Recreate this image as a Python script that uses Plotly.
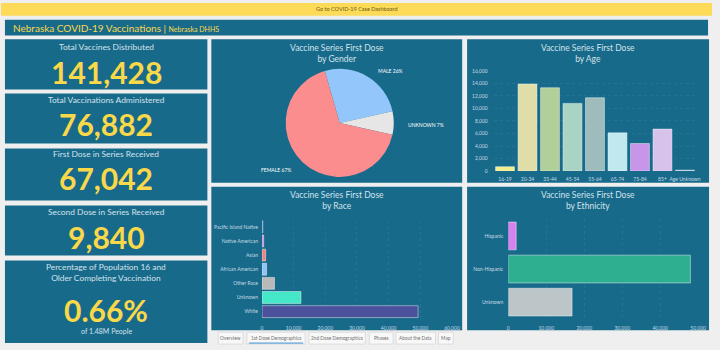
import math
import plotly.graph_objects as go

W, H = 720, 350
def X(px): return px / W
def Y(py): return 1 - py / H

# ---------------- data ----------------
gender_labels = ["MALE", "UNKNOWN", "FEMALE"]
gender_values = [17400, 4700, 44900]
gender_colors = ["#93c6fb", "#e6e6e6", "#fb8d8e"]

age_groups = ["16-19", "20-34", "35-44", "45-54", "55-64", "65-74", "75-84", "85+", "Age Unknown"]
age_values = [700, 13900, 13300, 10800, 11700, 6100, 4400, 6700, 150]
age_colors = ["#f3ee8c", "#e0dea7", "#b1cf99", "#a9d3c3", "#9dbcbb", "#bfe8ef", "#c796e9", "#d6c2eb", "#c9d6dd"]

race_groups = ["White", "Unknown", "Other Race", "African American", "Asian", "Native American", "Pacific Island Native"]
race_values = [49300, 12300, 3950, 1450, 1150, 530, 250]
race_colors = ["#4c519c", "#44e8c8", "#b9b9b9", "#8fc4f4", "#ef8383", "#d982ea", "#3c74d4"]

eth_groups = ["Unknown", "Non-Hispanic", "Hispanic"]
eth_values = [16800, 47950, 2080]
eth_colors = ["#bcc5c8", "#2eb090", "#d581ef"]

kpi_titles = ["Total Vaccines Distributed", "Total Vaccinations Administered",
              "First Dose in Series Received", "Second Dose in Series Received",
              "Percentage of Population 16 and<br>Older Completing Vaccination"]
kpi_values = ["141,428", "76,882", "67,042", "9,840", "0.66%"]
kpi_note = "of 1.48M People"

tabs = ["Overview", "1st Dose Demographics", "2nd Dose Demographics", "Phases", "About the Data", "Map"]

# ---------------- styles ----------------
TEAL = "#186a8b"
BG = "#efefef"
YEL = "#f9d849"
LIGHT = "#d3e2ea"
TICK = "#c6d9e3"
FONT = "Lato"

fig = go.Figure()
shapes = []
ann = []

def rect(x0, y0, x1, y1, fill, line=None, lw=0):
    shapes.append(dict(type="rect", xref="paper", yref="paper", layer="below",
                       x0=X(x0), x1=X(x1), y0=Y(y1), y1=Y(y0), fillcolor=fill,
                       line=dict(color=line or fill, width=lw)))

def text(x, y, s, size, color, xanchor="center", yanchor="middle", bold=False):
    f = dict(size=size, color=color, family=FONT)
    if bold:
        f["weight"] = "bold"
    ann.append(dict(xref="paper", yref="paper", x=X(x), y=Y(y), text=s, showarrow=False,
                    xanchor=xanchor, yanchor=yanchor, font=f))

# top bar
rect(0, 0, 720, 13, "#fddb58")
text(360, 6.5, "Go to COVID-19 Case Dashboard", 5.5, "#6b5a10")
# header
rect(4, 17, 716, 33, TEAL)
text(10, 25, "Nebraska COVID-19 Vaccinations | <span style='font-size:7px'>Nebraska DHHS</span>", 10, YEL, xanchor="left")

# KPI cards
cards = [(37, 88), (92, 143), (148, 201), (206, 257), (262, 346)]
title_y = [45, 99, 154, 213, 274]
value_y = [70, 123, 178, 238, 312]
for (y0, y1), t, v, ty, vy in zip(cards, kpi_titles, kpi_values, title_y, value_y):
    rect(4, y0, 209, y1, TEAL)
    text(106.5, ty, t, 8.4, LIGHT)
    text(106.5, vy, v, 30, YEL, bold=True)
text(106.5, 334, kpi_note, 7, LIGHT)

# chart panels
panels = {"pie": (213, 37, 467, 183), "age": (472, 37, 717, 183),
          "race": (213, 187, 467, 333), "eth": (472, 187, 717, 333)}
titles = {"pie": "Vaccine Series First Dose<br>by Gender", "age": "Vaccine Series First Dose<br>by Age",
          "race": "Vaccine Series First Dose<br>by Race", "eth": "Vaccine Series First Dose<br>by Ethnicity"}
for k, (x0, y0, x1, y1) in panels.items():
    rect(x0, y0, x1, y1, TEAL)
    text((x0 + x1) / 2, y0 + 14, titles[k], 8.5, LIGHT)

# tabs
tab_x = [(220, 245), (249, 308), (312, 369), (373, 397), (400, 440), (443, 458)]
for (a, b), t in zip(tab_x, tabs):
    rect(a, 335, b, 347, "#f8f8f8", "#cfcfcf", 0.6)
    text((a + b) / 2, 341, t, 4.8, "#707070")
shapes.append(dict(type="line", xref="paper", yref="paper", x0=X(251), x1=X(306), y0=Y(346), y1=Y(346),
                   line=dict(color="#3b8ed3", width=1)))

# ---------------- pie ----------------
cx, cy, R = 343, 122, 55
rotation = -16
fig.add_trace(go.Pie(labels=gender_labels, values=gender_values, marker=dict(colors=gender_colors, line=dict(width=0)),
                     sort=False, direction="clockwise", rotation=rotation, textinfo="none", hoverinfo="label+percent",
                     domain=dict(x=[X(cx - R), X(cx + R)], y=[Y(cy + R), Y(cy - R)]), showlegend=False))
total = sum(gender_values)
acc = rotation
for lab, val in zip(gender_labels, gender_values):
    span = val / total * 360
    mid = math.radians(acc + span / 2)
    acc += span
    rl = R * 1.15
    s = math.sin(mid)
    lx = cx + rl * s + (4 if s > 0 else -4)
    ly = cy - rl * math.cos(mid) + 2
    text(lx, ly, f"{lab} {round(val / total * 100)}%", 5, "#ffffff", xanchor="left" if s > 0 else "right")

# ---------------- age ----------------
fig.add_trace(go.Bar(x=age_groups, y=age_values, marker=dict(color=age_colors, line=dict(color="rgba(255,255,255,0.55)", width=0.8)),
                     xaxis="x", yaxis="y", showlegend=False))
# ---------------- race ----------------
fig.add_trace(go.Bar(y=race_groups, x=race_values, orientation="h",
                     marker=dict(color=race_colors, line=dict(color="rgba(255,255,255,0.55)", width=0.8)),
                     xaxis="x2", yaxis="y2", showlegend=False))
# ---------------- ethnicity ----------------
fig.add_trace(go.Bar(y=eth_groups, x=eth_values, orientation="h",
                     marker=dict(color=eth_colors, line=dict(color="rgba(255,255,255,0.55)", width=0.8)),
                     xaxis="x3", yaxis="y3", showlegend=False))

tickfont = dict(size=5, color=TICK, family=FONT)
grid = dict(showgrid=True, gridcolor="rgba(255,255,255,0.06)", griddash="dot", gridwidth=0.6)
nogrid = dict(showgrid=False)
common = dict(zeroline=False, showline=False, ticks="", tickfont=tickfont, fixedrange=True)

fig.update_layout(
    width=W, height=H, margin=dict(l=0, r=0, t=0, b=0),
    paper_bgcolor=BG, plot_bgcolor="rgba(0,0,0,0)",
    font=dict(family=FONT), bargap=0.16,
    shapes=shapes, annotations=ann,
    xaxis=dict(domain=[X(499), X(704)], anchor="y", type="category", ticklabelstandoff=4, **nogrid, **common),
    yaxis=dict(domain=[Y(171), Y(69)], anchor="x", range=[0, 16000], dtick=2000, tickformat=",",
               ticklabelstandoff=5, **grid, **common),
    xaxis2=dict(domain=[X(264.3), X(456.7)], anchor="y2", range=[0, 60000], dtick=10000, tickformat=",",
                ticklabelstandoff=5, **grid, **common),
    yaxis2=dict(domain=[Y(321.2), Y(220.5)], anchor="x2", type="category", ticklabelstandoff=3, **nogrid, **common),
    xaxis3=dict(domain=[X(513.7), X(706)], anchor="y3", range=[0, 50000], dtick=10000, tickformat=",",
                ticklabelstandoff=5, **grid, **common),
    yaxis3=dict(domain=[Y(321.2), Y(220.2)], anchor="x3", type="category", ticklabelstandoff=4, **nogrid, **common),
)

fig.write_html("out.html")
